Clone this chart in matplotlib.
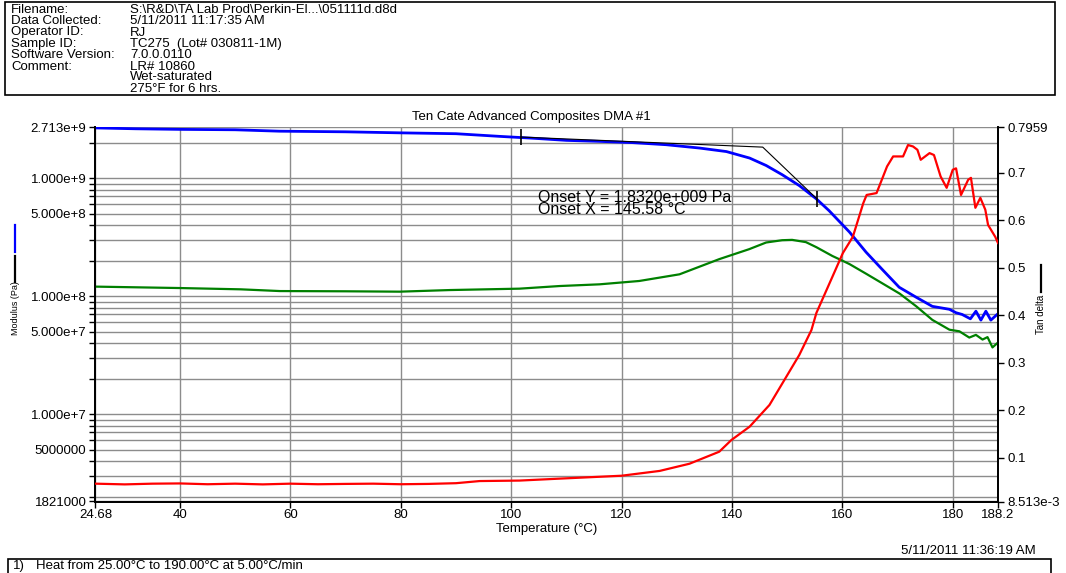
import matplotlib
matplotlib.use("Agg")
import matplotlib.pyplot as plt
from matplotlib.lines import Line2D
from matplotlib.patches import Rectangle
from matplotlib.ticker import FixedLocator, LogLocator, NullFormatter

plt.rcParams["font.family"] = ["Liberation Sans", "DejaVu Sans"]

W, H = 1066, 573
FS = 9.5

# run header
header_labels = ["Filename:", "Data Collected:", "Operator ID:", "Sample ID:",
                 "Software Version:", "Comment:", "", ""]
header_values = ["S:\\R&D\\TA Lab Prod\\Perkin-El...\\051111d.d8d",
                 "5/11/2011 11:17:35 AM", "RJ", "TC275  (Lot# 030811-1M)",
                 "7.0.0.0110", "LR# 10860", "Wet-saturated", "275°F for 6 hrs."]

# storage modulus E' (Pa)
temp_storage = [24.68, 32, 40, 50, 58, 70, 80, 90, 97.9, 103.9, 110.0, 116.0,
                122.0, 128.1, 134.1, 139.0, 143.2, 146.2, 149.1, 152.2, 155.3,
                157.6, 161.3, 164.3, 167.2, 170.3, 173.4, 176.3, 179.4, 180.6,
                181.7, 183.2, 184.2, 185.1, 186.0, 186.9, 188.2]
storage = [2.665e9, 2.62e9, 2.59e9, 2.57e9, 2.50e9, 2.47e9, 2.42e9, 2.38e9,
           2.26e9, 2.18e9, 2.09e9, 2.05e9, 2.00e9, 1.92e9, 1.80e9, 1.68e9,
           1.48e9, 1.28e9, 1.07e9, 8.65e8, 6.67e8, 5.30e8, 3.49e8, 2.36e8,
           1.69e8, 1.19e8, 9.78e7, 8.2e7, 7.74e7, 7.24e7, 7.0e7, 6.43e7,
           7.46e7, 6.27e7, 7.46e7, 6.27e7, 7.1e7]

# loss modulus E'' (Pa)
temp_loss = [24.68, 40, 51, 58.1, 70, 79.8, 88.9, 101.5, 108.8, 116.0, 123.2,
             130.5, 137.7, 143.1, 146.2, 149.1, 150.9, 153.4, 155.3, 158.2,
             160.1, 161.3, 164.3, 167.3, 170.4, 173.4, 176.3, 179.4, 181.2,
             183.0, 184.2, 185.4, 186.3, 187.2, 188.2]
loss = [1.205e8, 1.172e8, 1.143e8, 1.105e8, 1.10e8, 1.092e8, 1.127e8,
        1.158e8, 1.219e8, 1.26e8, 1.345e8, 1.532e8, 2.06e8, 2.50e8, 2.85e8,
        2.98e8, 3.0e8, 2.87e8, 2.60e8, 2.19e8, 1.99e8, 1.87e8, 1.55e8,
        1.28e8, 1.05e8, 8.2e7, 6.3e7, 5.2e7, 5.04e7, 4.46e7, 4.7e7, 4.29e7,
        4.5e7, 3.68e7, 4.05e7]

# tan delta
temp_tan = [24.68, 30, 35, 40, 45, 50, 55, 60, 65, 70, 75, 80, 85, 90, 94.3,
            101.5, 108.8, 120.0, 126.9, 132.3, 137.7, 139.9, 143.2, 146.8,
            149.5, 152.2, 154.4, 155.3, 158.2, 160.1, 161.9, 163.8, 164.4,
            166.2, 168.1, 169.2, 171.0, 171.9, 172.8, 173.6, 174.2, 175.8,
            176.6, 177.8, 178.9, 180.0, 180.6, 181.5, 182.8, 183.3, 184.1,
            185.0, 185.9, 186.4, 187.7, 188.2]
tan_delta = [0.046, 0.0445, 0.046, 0.0465, 0.0448, 0.046, 0.0445, 0.046,
             0.0448, 0.0455, 0.046, 0.0448, 0.0455, 0.047, 0.0515, 0.0525,
             0.0566, 0.0627, 0.0728, 0.0879, 0.1132, 0.1378, 0.1658, 0.2115,
             0.264, 0.3166, 0.369, 0.405, 0.481, 0.531, 0.565, 0.636, 0.653,
             0.657, 0.713, 0.734, 0.734, 0.758, 0.755, 0.748, 0.727, 0.741,
             0.737, 0.692, 0.668, 0.706, 0.709, 0.653, 0.685, 0.689, 0.626,
             0.647, 0.622, 0.590, 0.565, 0.552]

# onset construction on E'
onset_x, onset_y = 145.58, 1.832e9
tangent_pts = [(101.8, 2.23e9), (155.4, 6.67e8)]

x_ticks = [24.68, 40, 60, 80, 100, 120, 140, 160, 180, 188.2]
x_ticklabels = ["24.68", "40", "60", "80", "100", "120", "140", "160", "180", "188.2"]
y_ticks = [1.821e6, 5e6, 1e7, 5e7, 1e8, 5e8, 1e9, 2.713e9]
y_ticklabels = ["1821000", "5000000", "1.000e+7", "5.000e+7", "1.000e+8",
                "5.000e+8", "1.000e+9", "2.713e+9"]
y2_ticks = [0.008513, 0.1, 0.2, 0.3, 0.4, 0.5, 0.6, 0.7, 0.7959]
y2_ticklabels = ["8.513e-3", "0.1", "0.2", "0.3", "0.4", "0.5", "0.6", "0.7", "0.7959"]


def fx(x):
    return x / W


def fy(y):
    return 1 - y / H


fig = plt.figure(figsize=(W / 100, H / 100), dpi=100)
fig.patch.set_facecolor("white")

ax = fig.add_axes([fx(95.4), fy(501.5), (998 - 95.4) / W, (501.5 - 127) / H])
ax2 = ax.twinx()

ax.set_yscale("log")
ax.set_xlim(24.68, 188.2)
ax.set_ylim(1.821e6, 2.713e9)
ax2.set_ylim(0.008513, 0.7959)

ax.plot(temp_storage, storage, color="#0000ff", lw=2.0, zorder=3)
ax.plot(temp_loss, loss, color="#008000", lw=1.6, zorder=3)
ax2.plot(temp_tan, tan_delta, color="#ff0000", lw=1.6, zorder=3)

# tangent lines meeting at the onset point
ax.plot([tangent_pts[0][0], onset_x, tangent_pts[1][0]],
        [tangent_pts[0][1], onset_y, tangent_pts[1][1]],
        color="black", lw=0.8, zorder=4)
ax.plot([p[0] for p in tangent_pts], [p[1] for p in tangent_pts],
        ls="none", marker="|", ms=12, mew=1.2, color="black", zorder=5)

ax.text(104.8, 6.1e8, "Onset Y = 1.8320e+009 Pa\nOnset X = 145.58 °C",
        fontsize=11.5, va="center", linespacing=0.7)

# axes, ticks and grid
ax.xaxis.set_major_locator(FixedLocator(x_ticks))
ax.set_xticklabels(x_ticklabels)
ax.yaxis.set_major_locator(FixedLocator(y_ticks))
ax.set_yticklabels(y_ticklabels)
ax.yaxis.set_minor_locator(LogLocator(base=10, subs=range(2, 10), numticks=20))
ax.yaxis.set_minor_formatter(NullFormatter())
ax2.yaxis.set_major_locator(FixedLocator(y2_ticks))
ax2.set_yticklabels(y2_ticklabels)

ax.grid(True, which="both", axis="y", color="#8c8c8c", lw=1.0, zorder=0)
ax.grid(True, which="major", axis="x", color="#8c8c8c", lw=1.0, zorder=0)
ax.set_axisbelow(True)

for a in (ax, ax2):
    a.tick_params(which="both", direction="out", length=4.5, width=1,
                  labelsize=FS, pad=2, colors="black")
    a.spines["top"].set_visible(False)
    for s in ("left", "right", "bottom"):
        a.spines[s].set_linewidth(1.3)
ax.tick_params(axis="x", pad=1)

ax.set_xlabel("Temperature (°C)", fontsize=FS, labelpad=1)

fig.text(fx(531), fy(117), "Ten Cate Advanced Composites DMA #1",
         fontsize=FS, ha="center", va="center")

# axis labels with series keys
fig.text(fx(15), fy(308), "Modulus (Pa)", fontsize=6.5, rotation=90,
         ha="center", va="center")
fig.add_artist(Line2D([fx(15), fx(15)], [fy(256), fy(282)], color="black", lw=1.6))
fig.add_artist(Line2D([fx(15), fx(15)], [fy(225), fy(252)], color="#0000ff", lw=1.6))
fig.text(fx(1041), fy(314), "Tan delta", fontsize=7, rotation=90,
         ha="center", va="center")
fig.add_artist(Line2D([fx(1041), fx(1041)], [fy(265), fy(292)], color="black", lw=1.6))

# header block
fig.add_artist(Rectangle((fx(5), fy(95)), (1055 - 5) / W, 93 / H,
                         fill=False, ec="black", lw=1.2))
row_y = [10, 21, 32.5, 43.5, 55, 66.5, 77.5, 89]
for lab, val, y in zip(header_labels, header_values, row_y):
    fig.text(fx(11), fy(y), lab, fontsize=FS, va="center")
    fig.text(fx(130), fy(y), val, fontsize=FS, va="center")

# footer
fig.text(fx(1036), fy(550.5), "5/11/2011 11:36:19 AM", fontsize=FS,
         ha="right", va="center")
fig.add_artist(Rectangle((fx(8), fy(590)), (1051 - 8) / W, 31 / H,
                         fill=False, ec="black", lw=1.2))
fig.text(fx(13), fy(566), "1)", fontsize=FS, va="center")
fig.text(fx(36), fy(566), "Heat from 25.00°C to 190.00°C at 5.00°C/min",
         fontsize=FS, va="center")

fig.savefig("out.png", dpi=100)
